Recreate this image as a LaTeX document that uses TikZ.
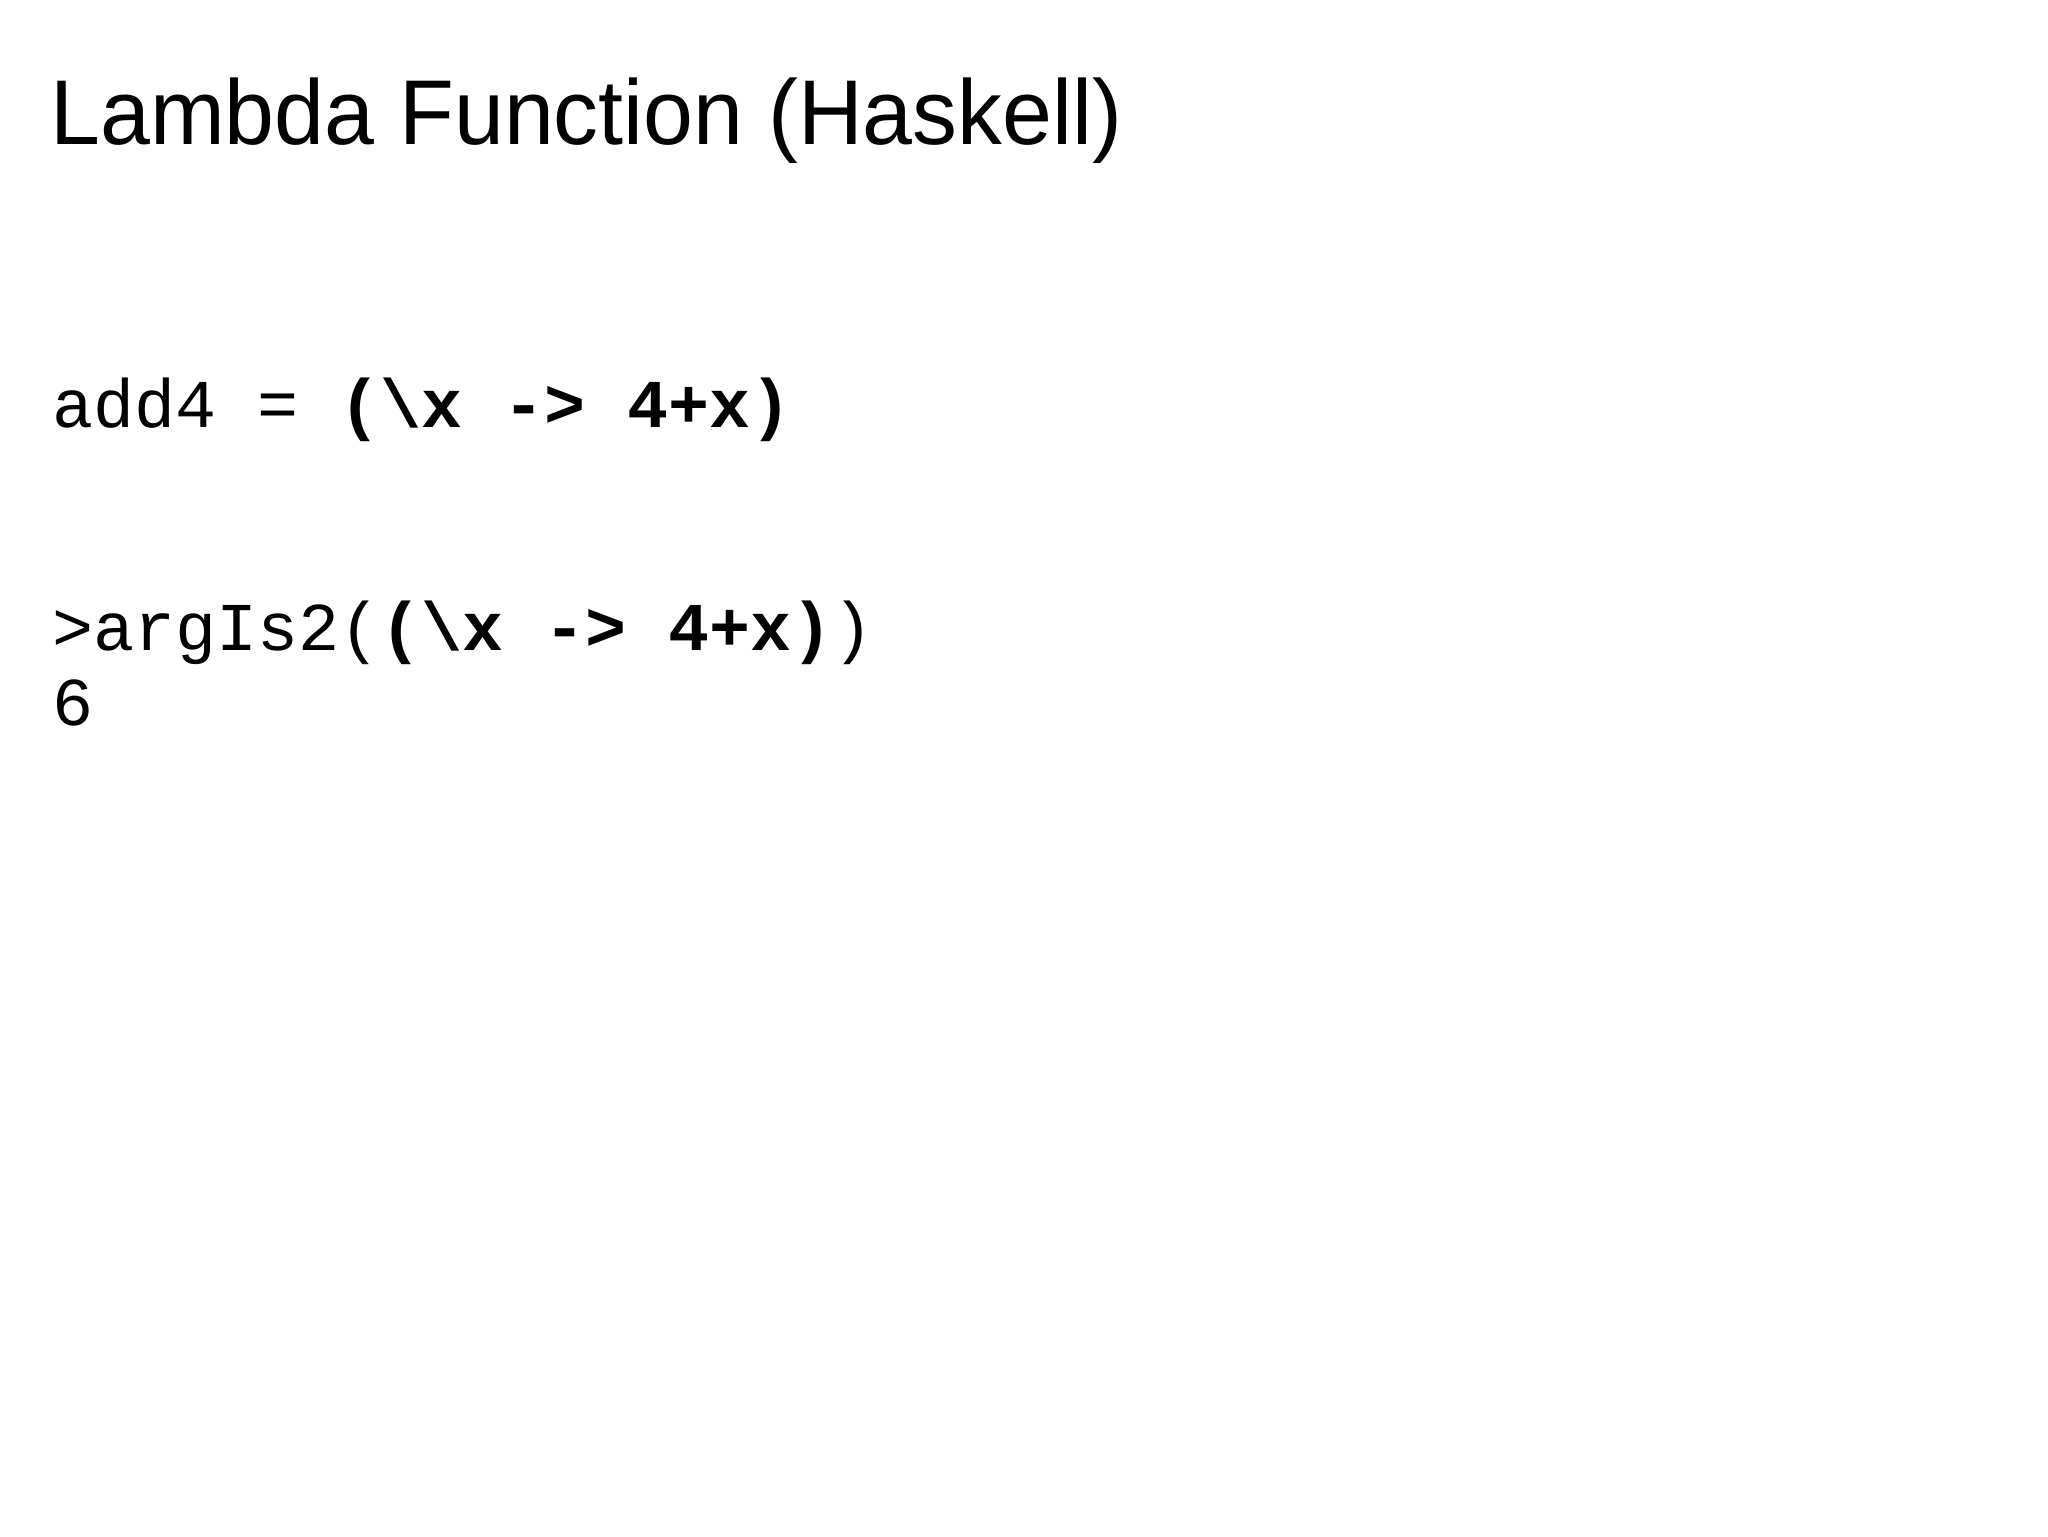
\documentclass[tikz,border=0pt]{standalone}
\usepackage{fontspec}
\setmainfont{Liberation Sans}
\newfontfamily\codefont{Liberation Mono}
\begin{document}
\begin{tikzpicture}[x=1pt,y=1pt,
  txt/.style={inner sep=0pt, anchor=base west},
  titletext/.style={txt, font=\fontsize{46}{55}\selectfont},
  codetext/.style={txt, font=\codefont\fontsize{34.2}{37}\selectfont}]
\useasboundingbox[fill=white] (0,0) rectangle (1024,-768);
\node[titletext, xscale=0.975] (title) at (25,-72) {Lambda Function (Haskell)};
\node[codetext] (line1) at (26,-213.5) {add4 = \textbf{(\textbackslash x -> 4+x)}};
\node[codetext] (line2) at (26,-325) {>argIs2(\textbf{(\textbackslash x -> 4+x)})};
\node[codetext] (line3) at (26,-362.5) {6};
\end{tikzpicture}
\end{document}
